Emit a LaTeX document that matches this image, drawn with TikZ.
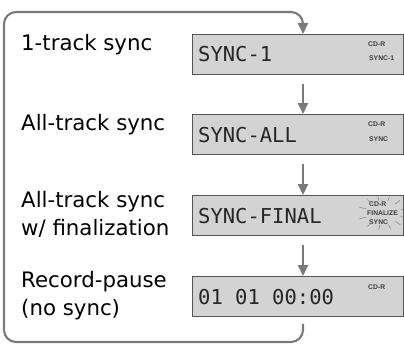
\documentclass[tikz,border=0pt]{standalone}
\usepackage{fontspec}
\setmainfont{DejaVu Sans}
\newfontfamily\lcdfont{DejaVu Sans Mono}
\newfontfamily\indfont{Liberation Sans}
\usetikzlibrary{arrows.meta,calc}
\definecolor{linegray}{HTML}{7A7A7A}
\definecolor{boxfill}{HTML}{D3D3D3}
\definecolor{boxedge}{HTML}{555555}
\definecolor{raygray}{HTML}{858585}
\begin{document}
\begin{tikzpicture}[x=1pt,y=-1pt,
  lcd/.style={draw=boxedge, fill=boxfill, line width=0.9pt, minimum width=211pt,
    minimum height=40pt, anchor=north west, inner sep=0pt},
  lcdtext/.style={anchor=base west, inner sep=0pt, font=\lcdfont\fontsize{20.5}{24}\selectfont, text=black!85},
  label/.style={anchor=base west, inner sep=0pt, align=left,
    font=\fontsize{21.3}{28}\selectfont, text=black},
  ind/.style={anchor=base west, inner sep=0pt, font=\indfont\bfseries\fontsize{6.8}{7}\selectfont, text=black!75},
  conn/.style={draw=linegray, line width=2.1pt},
  arr/.style={conn, -{Triangle[width=10pt,length=11pt]}},
  ray/.style={draw=raygray, line width=0.5pt}
]
\useasboundingbox (0,0) rectangle (404,345);

% boxes
\node[lcd] (b1) at (192,34) {};
\node[lcd] (b2) at (192,114) {};
\node[lcd] (b3) at (192,195) {};
\node[lcd] (b4) at (192,276) {};

% LCD main texts
\node[lcdtext] (t1) at (198,62) {SYNC-1};
\node[lcdtext] (t2) at (198,142) {SYNC-ALL};
\node[lcdtext] (t3) at (198,223) {SYNC-FINAL};
\node[lcdtext] (t4) at (198,304) {01 01 00:00};

% indicators
\node[ind] (i1a) at (368,47) {CD-R};
\node[ind] (i1b) at (369,61) {SYNC-1};
\node[ind] (i2a) at (368,126) {CD-R};
\node[ind] (i2b) at (369,141) {SYNC};
\node[ind] (i3a) at (369,206) {CD-R};
\node[ind] (i3b) at (367,215) {FINALIZE};
\node[ind] (i3c) at (369,224) {SYNC};
\node[ind] (i4a) at (368,289) {CD-R};

% blinking rays around FINALIZE group
\foreach \a in {15,45,72,100,128,160,200,232,258,285,312,345}{
  \draw[ray] ($(383,213)+(\a:18 and 12)$) -- ($(383,213)+(\a:25 and 17)$);
}

% left labels
\node[label] (l1) at (21,51) {1-track sync};
\node[label] (l2) at (21,130) {All-track sync};
\node[label] (l3) at (21,235) {All-track sync\\w/ finalization};
\node[label] (l4) at (21,315) {Record-pause\\(no sync)};

% connector column
\coordinate (col) at (303,0);
\draw[arr] ([yshift=-9pt]b1.south -| col) -- (b2.north -| col);
\draw[arr] ([yshift=-9pt]b2.south -| col) -- (b3.north -| col);
\draw[arr] ([yshift=-9pt]b3.south -| col) -- (b4.north -| col);

% loop back
\coordinate (bl) at (4,342);
\coordinate (tl) at (4,12);
\draw[arr, rounded corners=12pt] ([yshift=-7pt]b4.south -| col) -- (col |- bl) -- (bl) -- (tl) -- (col |- tl) -- (b1.north -| col);
\end{tikzpicture}
\end{document}
